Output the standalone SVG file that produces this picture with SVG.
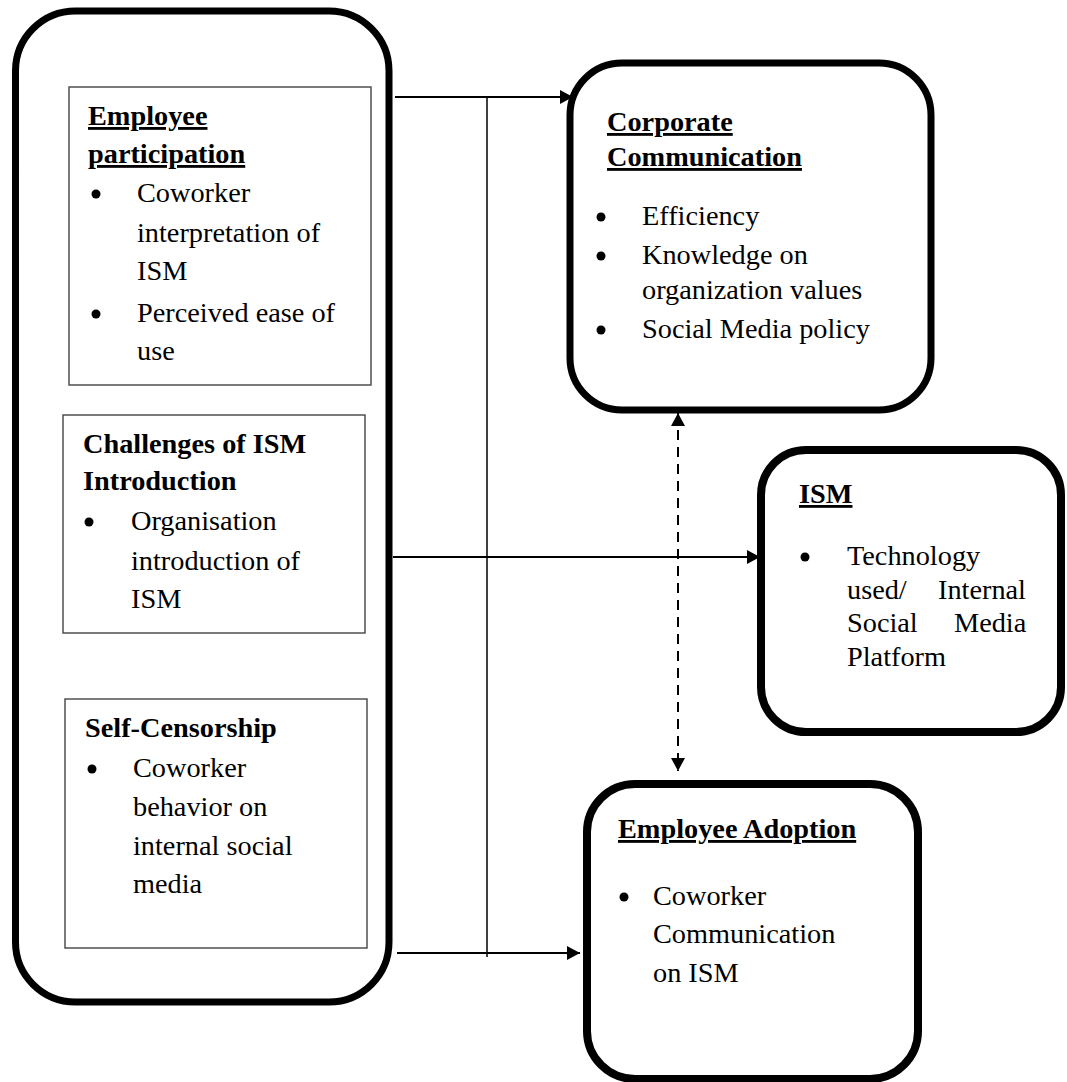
<svg xmlns="http://www.w3.org/2000/svg" width="1067" height="1082" viewBox="0 0 1067 1082">
<style>
  .t { font-family: "Liberation Serif", "Times New Roman", serif; font-size: 28.3px; fill: #000; }
  .h { font-weight: bold; }
  .u { text-decoration: underline; }
  .big { fill: #fff; stroke: #000; stroke-width: 7; }
  .box { fill: #fff; stroke: #444; stroke-width: 1.4; }
  .b { fill: #000; }
  .ln { stroke: #000; stroke-width: 2; fill: none; }
</style>
<defs>
  <marker id="ah" markerUnits="userSpaceOnUse" markerWidth="13" markerHeight="14" refX="13" refY="7" orient="auto-start-reverse" viewBox="0 0 13 14">
    <path d="M0,0 L13,7 L0,14 z" fill="#000"/>
  </marker>
</defs>

<g id="factors">
  <rect class="big" x="15.5" y="11" width="373.5" height="991" rx="60" ry="60"/>
</g>

<g id="employee-participation">
  <rect class="box" x="69" y="87" width="302" height="298"/>
  <text class="t h u" x="88" y="125">Employee</text>
  <text class="t h u" x="88" y="163">participation</text>
  <circle class="b" cx="96" cy="194" r="4.5"/>
  <text class="t" x="137" y="202">Coworker</text>
  <text class="t" x="137" y="242">interpretation of</text>
  <text class="t" x="137" y="280">ISM</text>
  <circle class="b" cx="96" cy="314" r="4.5"/>
  <text class="t" x="137" y="322">Perceived ease of</text>
  <text class="t" x="137" y="360">use</text>
</g>

<g id="challenges">
  <rect class="box" x="63" y="415" width="302" height="218"/>
  <text class="t h" x="83" y="453">Challenges of ISM</text>
  <text class="t h" x="83" y="490">Introduction</text>
  <circle class="b" cx="89" cy="522" r="4.5"/>
  <text class="t" x="131" y="530">Organisation</text>
  <text class="t" x="131" y="570">introduction of</text>
  <text class="t" x="131" y="608">ISM</text>
</g>

<g id="self-censorship">
  <rect class="box" x="65" y="699" width="302" height="249"/>
  <text class="t h" x="85" y="737">Self-Censorship</text>
  <circle class="b" cx="92" cy="769" r="4.5"/>
  <text class="t" x="133" y="777">Coworker</text>
  <text class="t" x="133" y="816">behavior on</text>
  <text class="t" x="133" y="855">internal social</text>
  <text class="t" x="133" y="893">media</text>
</g>

<g id="corporate-communication">
  <rect class="big" x="570" y="63" width="361" height="347" rx="52" ry="52"/>
  <text class="t h u" x="607" y="131">Corporate</text>
  <text class="t h u" x="607" y="166">Communication</text>
  <circle class="b" cx="601" cy="217" r="4.5"/>
  <text class="t" x="642" y="225">Efficiency</text>
  <circle class="b" cx="601" cy="256" r="4.5"/>
  <text class="t" x="642" y="264">Knowledge on</text>
  <text class="t" x="642" y="299">organization values</text>
  <circle class="b" cx="601" cy="330" r="4.5"/>
  <text class="t" x="642" y="338">Social Media policy</text>
</g>

<g id="ism">
  <rect class="big" x="761" y="450" width="300" height="282" rx="45" ry="45" style="stroke-width:8"/>
  <text class="t h u" x="799" y="503">ISM</text>
  <circle class="b" cx="805" cy="557" r="4.5"/>
  <text class="t" x="847" y="565">Technology</text>
  <text class="t" y="599"><tspan x="847">used/</tspan><tspan x="938">Internal</tspan></text>
  <text class="t" y="632"><tspan x="847">Social</tspan><tspan x="954">Media</tspan></text>
  <text class="t" x="847" y="666">Platform</text>
</g>

<g id="employee-adoption">
  <rect class="big" x="587" y="784" width="331" height="295" rx="48" ry="48" style="stroke-width:8"/>
  <text class="t h u" x="618" y="838">Employee Adoption</text>
  <circle class="b" cx="624" cy="897" r="4.5"/>
  <text class="t" x="653" y="905">Coworker</text>
  <text class="t" x="653" y="943">Communication</text>
  <text class="t" x="653" y="982">on ISM</text>
</g>

<g id="connectors">
  <line class="ln" x1="395" y1="97" x2="573" y2="97" marker-end="url(#ah)"/>
  <line class="ln" x1="487" y1="97" x2="487" y2="957" style="stroke-width:1.5"/>
  <line class="ln" x1="393" y1="557" x2="760" y2="557" marker-end="url(#ah)"/>
  <line class="ln" x1="397" y1="953" x2="580" y2="953" marker-end="url(#ah)"/>
  <line class="ln" x1="678" y1="413" x2="678" y2="771" stroke-dasharray="10,7" marker-start="url(#ah)" marker-end="url(#ah)"/>
</g>
</svg>
